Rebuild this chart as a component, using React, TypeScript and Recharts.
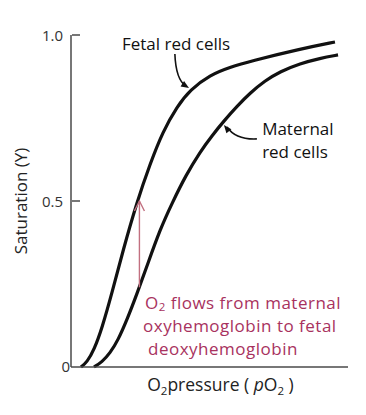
import React from 'react';
import { LineChart, Line, XAxis, YAxis, ReferenceLine, ReferenceDot, Label } from 'recharts';

// O2 pressure (arbitrary units, 0-100) and fractional saturation Y
const pO2Fetal = [3.6, 5.8, 8.3, 11.2, 14.8, 18.8, 23.8, 28.5, 33.2, 38.3, 43.0, 50.2, 57.4, 64.6, 82.7, 95.3];
const satFetal = [0, 0.015, 0.051, 0.117, 0.223, 0.352, 0.497, 0.611, 0.71, 0.785, 0.835, 0.88, 0.903, 0.921, 0.958, 0.979];
const pO2Maternal = [8.3, 11.2, 14.1, 17.0, 20.2, 23.8, 27.8, 32.1, 36.5, 41.5, 46.6, 50.9, 55.6, 59.9, 64.6, 70.0, 75.5, 82.7, 89.9, 96.4];
const satMaternal = [0, 0.015, 0.042, 0.081, 0.142, 0.22, 0.313, 0.413, 0.494, 0.578, 0.648, 0.697, 0.745, 0.785, 0.825, 0.862, 0.89, 0.914, 0.93, 0.94];

const yTickValues = [0, 0.5, 1];
const yTickLabels = ['0', '0.5', '1.0'];

const fetalLabel = 'Fetal red cells';
const maternalLabel = ['Maternal', 'red cells'];
const flowLabel = ['flows from maternal', 'oxyhemoglobin to fetal', 'deoxyhemoglobin'];

const fetalData = pO2Fetal.map((x, i) => ({ x, y: satFetal[i] }));
const maternalData = pO2Maternal.map((x, i) => ({ x, y: satMaternal[i] }));

const FONT = '"Open Sans", sans-serif';
const AXIS = '#4a4a4a';
const RED_TEXT = '#a8325e';
const RED_ARROW = '#c27080';

const YTick = (props: any) => {
  const { x, y, payload } = props;
  const idx = yTickValues.indexOf(payload.value);
  const label = yTickLabels[idx] ?? String(payload.value);
  if (payload.value === 0) {
    return (
      <text x={x - 1} y={y - 1} textAnchor="end" dominantBaseline="central" fontFamily={FONT} fontSize={15} fill="#333">
        {label}
      </text>
    );
  }
  return (
    <g>
      <line x1={x + 1} y1={y} x2={x + 9} y2={y} stroke={AXIS} strokeWidth={1.5} />
      <text x={x - 8} y={y} textAnchor="end" dominantBaseline="central" fontFamily={FONT} fontSize={15} fill="#333">
        {label}
      </text>
    </g>
  );
};

const arrowHeadFilled = (cx: number, cy: number, tx: number, ty: number, color: string) => {
  const dx = tx - cx;
  const dy = ty - cy;
  const len = Math.sqrt(dx * dx + dy * dy) || 1;
  const ux = dx / len;
  const uy = dy / len;
  const L = 8;
  const W = 3.2;
  const bx = tx - ux * L;
  const by = ty - uy * L;
  return (
    <polygon
      points={`${tx},${ty} ${bx - uy * W},${by + ux * W} ${bx + uy * W},${by - ux * W}`}
      fill={color}
    />
  );
};

const FetalArrow = (p: any) => {
  const { x1, y1, x2, y2 } = p;
  const cx = x1 + 1;
  const cy = y1 + (y2 - y1) * 0.75;
  return (
    <g>
      <path d={`M${x1},${y1} Q${cx},${cy} ${x2 - 3},${y2 - 2}`} fill="none" stroke="#111" strokeWidth={1.6} />
      {arrowHeadFilled(cx, cy, x2, y2, '#111')}
    </g>
  );
};

const MaternalArrow = (p: any) => {
  const { x1, y1, x2, y2 } = p;
  const cx = x2 + 12;
  const cy = y1 + 1;
  return (
    <g>
      <path d={`M${x1},${y1} Q${cx},${cy} ${x2 + 3},${y2 + 2}`} fill="none" stroke="#111" strokeWidth={1.6} />
      {arrowHeadFilled(cx, cy, x2, y2, '#111')}
    </g>
  );
};

const RedArrow = (p: any) => {
  const { x1, y1, y2 } = p;
  const top = Math.min(y1, y2);
  const bottom = Math.max(y1, y2);
  return (
    <g stroke={RED_ARROW} strokeWidth={1.4} fill="none">
      <line x1={x1} y1={bottom} x2={x1} y2={top} />
      <polyline points={`${x1 - 5},${top + 10} ${x1},${top} ${x1 + 5},${top + 10}`} />
    </g>
  );
};

const textShape = (content: React.ReactNode, size: number, color: string, spacing = 0) => (p: any) => (
  <text x={p.cx} y={p.cy} fontFamily={FONT} fontSize={size} fill={color} letterSpacing={spacing}>
    {content}
  </text>
);

export default function App() {
  return (
    <div style={{ position: 'absolute', left: 0, top: 0, width: 366, height: 415, background: '#fff' }}>
      <LineChart width={366} height={415} margin={{ top: 35, right: 18, bottom: 0, left: 0 }}>
        <XAxis
          dataKey="x"
          type="number"
          domain={[0, 100]}
          allowDataOverflow
          height={48}
          tick={false}
          tickLine={false}
          axisLine={{ stroke: AXIS, strokeWidth: 1.5 }}
        >
          <Label
            content={(props: any) => {
              const vb = props.viewBox;
              const cx = vb.x + vb.width / 2 + 11;
              const y = vb.y + 24;
              return (
                <text x={cx} y={y} textAnchor="middle" fontFamily={FONT} fontSize={17.5} fill="#222">
                  <tspan>O</tspan>
                  <tspan fontSize={11.5} dy={4}>2</tspan>
                  <tspan dy={-4}>pressure ( </tspan>
                  <tspan fontStyle="italic">p</tspan>
                  <tspan>O</tspan>
                  <tspan fontSize={11.5} dy={4}>2</tspan>
                  <tspan dy={-4}> )</tspan>
                </text>
              );
            }}
          />
        </XAxis>
        <YAxis
          type="number"
          domain={[0, 1]}
          ticks={yTickValues}
          interval={0}
          width={71}
          tickSize={0}
          tickMargin={0}
          tickLine={false}
          tick={<YTick />}
          axisLine={{ stroke: AXIS, strokeWidth: 1.5 }}
        >
          <Label
            content={(props: any) => {
              const vb = props.viewBox;
              const cy = vb.y + vb.height / 2;
              return (
                <text
                  x={20}
                  y={cy}
                  transform={`rotate(-90 20 ${cy})`}
                  textAnchor="middle"
                  dominantBaseline="central"
                  fontFamily={FONT}
                  fontSize={17}
                  fill="#222"
                >
                  Saturation (Y)
                </text>
              );
            }}
          />
        </YAxis>

        <Line data={fetalData} dataKey="y" type="basis" stroke="#111" strokeWidth={3.2} dot={false} isAnimationActive={false} />
        <Line data={maternalData} dataKey="y" type="basis" stroke="#111" strokeWidth={3.2} dot={false} isAnimationActive={false} />

        {/* annotations */}
        <ReferenceDot x={18.4} y={0.955} r={0} shape={textShape(fetalLabel, 17, '#111')} />
        <ReferenceLine segment={[{ x: 37.5, y: 0.943 }, { x: 42.6, y: 0.84 }]} shape={FetalArrow} />

        <ReferenceDot x={69.0} y={0.699} r={0} shape={textShape(maternalLabel[0], 17, '#111')} />
        <ReferenceDot x={69.0} y={0.63} r={0} shape={textShape(maternalLabel[1], 17, '#111')} />
        <ReferenceLine segment={[{ x: 67.1, y: 0.687 }, { x: 55.2, y: 0.729 }]} shape={MaternalArrow} />

        <ReferenceLine segment={[{ x: 24.7, y: 0.24 }, { x: 24.7, y: 0.5 }]} shape={RedArrow} />
        <ReferenceDot
          x={26.7}
          y={0.176}
          r={0}
          shape={textShape(
            <>
              <tspan>O</tspan>
              <tspan fontSize={11.5} dy={2}>2</tspan>
              <tspan dy={-2}> {flowLabel[0]}</tspan>
            </>,
            17,
            RED_TEXT,
            0.5
          )}
        />
        <ReferenceDot x={26.0} y={0.105} r={0} shape={textShape(flowLabel[1], 17, RED_TEXT, 0.5)} />
        <ReferenceDot x={27.8} y={0.037} r={0} shape={textShape(flowLabel[2], 17, RED_TEXT, 0.5)} />
      </LineChart>
    </div>
  );
}
